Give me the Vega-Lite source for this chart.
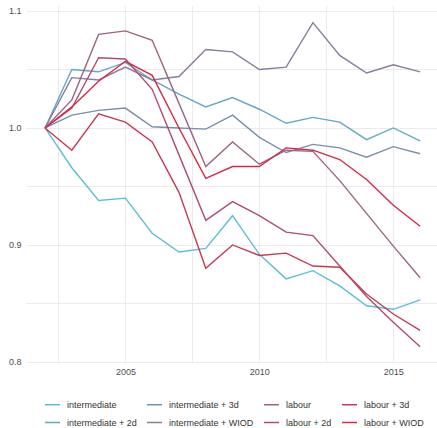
{
  "$schema": "https://vega.github.io/schema/vega-lite/v6.json",
  "autosize": {"type": "none"},
  "width": 411,
  "height": 358,
  "padding": {"left": 26, "top": 5, "right": 0, "bottom": 65},
  "background": "white",
  "config": {
    "view": {"stroke": null},
    "font": "Liberation Sans",
    "axis": {"domain": false, "ticks": false, "gridColor": "#ebebeb", "gridWidth": 1, "labelColor": "#4d4d4d", "labelFontSize": 9, "title": null}
  },
  "data": {"values": [
    {"series":"intermediate","year":2002,"value":1.000},{"series":"intermediate","year":2003,"value":0.966},{"series":"intermediate","year":2004,"value":0.938},{"series":"intermediate","year":2005,"value":0.940},{"series":"intermediate","year":2006,"value":0.910},{"series":"intermediate","year":2007,"value":0.894},{"series":"intermediate","year":2008,"value":0.897},{"series":"intermediate","year":2009,"value":0.925},{"series":"intermediate","year":2010,"value":0.892},{"series":"intermediate","year":2011,"value":0.871},{"series":"intermediate","year":2012,"value":0.878},{"series":"intermediate","year":2013,"value":0.865},{"series":"intermediate","year":2014,"value":0.848},{"series":"intermediate","year":2015,"value":0.845},{"series":"intermediate","year":2016,"value":0.853},
    {"series":"intermediate + 2d","year":2002,"value":1.000},{"series":"intermediate + 2d","year":2003,"value":1.050},{"series":"intermediate + 2d","year":2004,"value":1.048},{"series":"intermediate + 2d","year":2005,"value":1.056},{"series":"intermediate + 2d","year":2006,"value":1.041},{"series":"intermediate + 2d","year":2007,"value":1.029},{"series":"intermediate + 2d","year":2008,"value":1.018},{"series":"intermediate + 2d","year":2009,"value":1.026},{"series":"intermediate + 2d","year":2010,"value":1.016},{"series":"intermediate + 2d","year":2011,"value":1.004},{"series":"intermediate + 2d","year":2012,"value":1.009},{"series":"intermediate + 2d","year":2013,"value":1.005},{"series":"intermediate + 2d","year":2014,"value":0.990},{"series":"intermediate + 2d","year":2015,"value":1.000},{"series":"intermediate + 2d","year":2016,"value":0.989},
    {"series":"intermediate + 3d","year":2002,"value":1.000},{"series":"intermediate + 3d","year":2003,"value":1.011},{"series":"intermediate + 3d","year":2004,"value":1.015},{"series":"intermediate + 3d","year":2005,"value":1.017},{"series":"intermediate + 3d","year":2006,"value":1.001},{"series":"intermediate + 3d","year":2007,"value":1.000},{"series":"intermediate + 3d","year":2008,"value":0.999},{"series":"intermediate + 3d","year":2009,"value":1.011},{"series":"intermediate + 3d","year":2010,"value":0.992},{"series":"intermediate + 3d","year":2011,"value":0.979},{"series":"intermediate + 3d","year":2012,"value":0.986},{"series":"intermediate + 3d","year":2013,"value":0.983},{"series":"intermediate + 3d","year":2014,"value":0.975},{"series":"intermediate + 3d","year":2015,"value":0.984},{"series":"intermediate + 3d","year":2016,"value":0.978},
    {"series":"intermediate + WIOD","year":2002,"value":1.000},{"series":"intermediate + WIOD","year":2003,"value":1.043},{"series":"intermediate + WIOD","year":2004,"value":1.041},{"series":"intermediate + WIOD","year":2005,"value":1.052},{"series":"intermediate + WIOD","year":2006,"value":1.041},{"series":"intermediate + WIOD","year":2007,"value":1.044},{"series":"intermediate + WIOD","year":2008,"value":1.067},{"series":"intermediate + WIOD","year":2009,"value":1.065},{"series":"intermediate + WIOD","year":2010,"value":1.050},{"series":"intermediate + WIOD","year":2011,"value":1.052},{"series":"intermediate + WIOD","year":2012,"value":1.090},{"series":"intermediate + WIOD","year":2013,"value":1.062},{"series":"intermediate + WIOD","year":2014,"value":1.047},{"series":"intermediate + WIOD","year":2015,"value":1.054},{"series":"intermediate + WIOD","year":2016,"value":1.048},
    {"series":"labour","year":2002,"value":1.000},{"series":"labour","year":2003,"value":1.024},{"series":"labour","year":2004,"value":1.080},{"series":"labour","year":2005,"value":1.083},{"series":"labour","year":2006,"value":1.075},{"series":"labour","year":2007,"value":1.021},{"series":"labour","year":2008,"value":0.967},{"series":"labour","year":2009,"value":0.988},{"series":"labour","year":2010,"value":0.969},{"series":"labour","year":2011,"value":0.981},{"series":"labour","year":2012,"value":0.980},{"series":"labour","year":2013,"value":0.955},{"series":"labour","year":2014,"value":0.927},{"series":"labour","year":2015,"value":0.899},{"series":"labour","year":2016,"value":0.872},
    {"series":"labour + 2d","year":2002,"value":1.000},{"series":"labour + 2d","year":2003,"value":1.017},{"series":"labour + 2d","year":2004,"value":1.060},{"series":"labour + 2d","year":2005,"value":1.059},{"series":"labour + 2d","year":2006,"value":1.033},{"series":"labour + 2d","year":2007,"value":0.977},{"series":"labour + 2d","year":2008,"value":0.921},{"series":"labour + 2d","year":2009,"value":0.937},{"series":"labour + 2d","year":2010,"value":0.925},{"series":"labour + 2d","year":2011,"value":0.911},{"series":"labour + 2d","year":2012,"value":0.908},{"series":"labour + 2d","year":2013,"value":0.882},{"series":"labour + 2d","year":2014,"value":0.856},{"series":"labour + 2d","year":2015,"value":0.834},{"series":"labour + 2d","year":2016,"value":0.813},
    {"series":"labour + 3d","year":2002,"value":1.000},{"series":"labour + 3d","year":2003,"value":0.981},{"series":"labour + 3d","year":2004,"value":1.012},{"series":"labour + 3d","year":2005,"value":1.005},{"series":"labour + 3d","year":2006,"value":0.988},{"series":"labour + 3d","year":2007,"value":0.945},{"series":"labour + 3d","year":2008,"value":0.880},{"series":"labour + 3d","year":2009,"value":0.900},{"series":"labour + 3d","year":2010,"value":0.891},{"series":"labour + 3d","year":2011,"value":0.893},{"series":"labour + 3d","year":2012,"value":0.882},{"series":"labour + 3d","year":2013,"value":0.881},{"series":"labour + 3d","year":2014,"value":0.858},{"series":"labour + 3d","year":2015,"value":0.841},{"series":"labour + 3d","year":2016,"value":0.827},
    {"series":"labour + WIOD","year":2002,"value":1.000},{"series":"labour + WIOD","year":2003,"value":1.018},{"series":"labour + WIOD","year":2004,"value":1.040},{"series":"labour + WIOD","year":2005,"value":1.057},{"series":"labour + WIOD","year":2006,"value":1.045},{"series":"labour + WIOD","year":2007,"value":1.000},{"series":"labour + WIOD","year":2008,"value":0.957},{"series":"labour + WIOD","year":2009,"value":0.967},{"series":"labour + WIOD","year":2010,"value":0.967},{"series":"labour + WIOD","year":2011,"value":0.983},{"series":"labour + WIOD","year":2012,"value":0.981},{"series":"labour + WIOD","year":2013,"value":0.973},{"series":"labour + WIOD","year":2014,"value":0.956},{"series":"labour + WIOD","year":2015,"value":0.934},{"series":"labour + WIOD","year":2016,"value":0.916}
  ]},
  "mark": {"type": "line", "strokeWidth": 1.4},
  "encoding": {
    "x": {"field": "year", "type": "quantitative",
      "scale": {"domain": [2001.29, 2016.63], "nice": false, "zero": false},
      "axis": {"values": [2002.5, 2005, 2007.5, 2010, 2012.5, 2015], "labelExpr": "datum.value % 5 == 0 ? datum.value : ''", "labelPadding": 4}},
    "y": {"field": "value", "type": "quantitative",
      "scale": {"domain": [0.7991, 1.1051], "nice": false, "zero": false},
      "axis": {"values": [0.8, 0.85, 0.9, 0.95, 1.0, 1.05, 1.1], "labelExpr": "(round(datum.value*100) % 10 == 0) ? format(datum.value, '.1f') : ''", "labelPadding": 5}},
    "color": {"field": "series", "type": "nominal",
      "scale": {
        "domain": ["intermediate", "intermediate + 3d", "labour", "labour + 3d", "intermediate + 2d", "intermediate + WIOD", "labour + 2d", "labour + WIOD"],
        "range": ["#5bbfd6", "#7690ad", "#9d6585", "#c63a56", "#62a9c4", "#8b7b9c", "#b14d6c", "#d42a48"]},
      "legend": {"title": null, "orient": "none", "legendX": 18, "legendY": 391, "columns": 4, "direction": "horizontal", "gridAlign": "each",
        "symbolType": "stroke", "symbolSize": 225, "symbolStrokeWidth": 1.5, "labelFontSize": 9, "labelColor": "#333333",
        "labelOffset": 6, "columnPadding": 7, "rowPadding": 4, "labelLimit": 200}},
    "order": {"field": "year"}
  }
}
